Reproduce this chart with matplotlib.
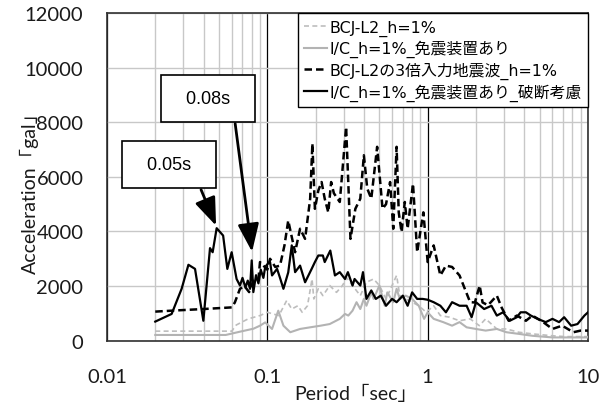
import matplotlib
matplotlib.use("Agg")
import matplotlib.pyplot as plt
from matplotlib.ticker import FixedLocator, FixedFormatter, LogLocator, NullFormatter

# ---- data ----
P1 = [0.02,0.06,0.064,0.076,0.09,0.1,0.118,0.132,0.142,0.155,0.165,0.178,0.19,0.195,0.208,0.222,0.245,0.27,0.294,0.313,0.34,0.38,0.415,0.46,0.5,0.55,0.6,0.64,0.67,0.73,0.8,0.88,0.98,1.09,1.2,1.37,1.58,1.84,2.1,2.3,2.7,3.1,3.7,4.5,6.0,7.2,10]
A1 = [350,350,575,800,920,1040,920,1470,1160,1280,1040,1280,2260,1530,1900,1650,2020,1770,2020,2300,2020,1650,2140,2260,2020,1530,2020,2390,1650,1530,1410,1280,1040,1280,920,860,730,800,550,800,430,430,310,250,180,150,150]

P2 = [0.02,0.055,0.0675,0.082,0.09,0.097,0.107,0.117,0.126,0.139,0.16,0.185,0.215,0.245,0.283,0.305,0.32,0.34,0.36,0.38,0.4,0.415,0.445,0.46,0.5,0.54,0.56,0.61,0.64,0.67,0.73,0.8,0.88,0.95,1.0,1.09,1.25,1.42,1.58,1.75,2.0,2.3,2.7,3.1,3.7,4.5,6.0,10]
A2 = [210,210,330,440,550,670,430,1100,550,310,430,490,550,610,800,980,920,1100,1410,1160,1530,1280,1770,1530,2020,1280,1770,1410,1900,1530,1650,1530,1280,800,1040,800,680,550,680,490,430,370,430,310,250,180,120,120]

P3 = [0.02,0.0253,0.04,0.06,0.0627,0.0675,0.072,0.077,0.082,0.088,0.09,0.1,0.104,0.112,0.12,0.128,0.135,0.142,0.149,0.16,0.172,0.185,0.191,0.198,0.208,0.218,0.228,0.24,0.25,0.26,0.283,0.31,0.33,0.354,0.38,0.4,0.42,0.445,0.484,0.523,0.55,0.583,0.61,0.64,0.66,0.687,0.72,0.75,0.81,0.86,0.94,1.0,1.09,1.2,1.3,1.42,1.58,1.84,1.97,2.11,2.2,2.38,2.7,2.9,3.2,3.6,4.1,4.5,5.2,6.0,6.9,8.1,9.0,10]
A3 = [1065,1100,1160,1220,1400,1900,2000,1780,2200,2250,2880,2600,3000,2700,2750,3500,4400,3800,3240,4100,3730,5200,7220,4830,5500,5810,5200,4700,5810,5400,5080,7830,3730,4830,5200,6790,5570,5200,7100,4830,5000,5810,4100,7100,4700,3980,5080,4100,5750,3240,4700,2880,3490,2390,2750,2700,2390,1410,1400,2020,1400,1300,1650,1200,730,920,730,920,700,430,550,310,370,370]

P4 = [0.02,0.0253,0.0292,0.0322,0.0354,0.0399,0.0439,0.0456,0.0483,0.053,0.0563,0.0599,0.0643,0.0675,0.07,0.073,0.0755,0.078,0.0799,0.0818,0.085,0.088,0.091,0.0945,0.097,0.1,0.104,0.107,0.115,0.12,0.126,0.135,0.142,0.149,0.16,0.172,0.189,0.198,0.208,0.222,0.228,0.247,0.264,0.283,0.305,0.318,0.34,0.35,0.38,0.395,0.415,0.445,0.475,0.51,0.55,0.6,0.64,0.70,0.75,0.80,0.86,0.93,1.0,1.09,1.2,1.3,1.42,1.58,1.75,1.88,2.0,2.25,2.5,2.7,2.95,3.25,3.6,3.8,4.1,4.4,4.85,5.45,6.0,6.6,7.1,7.85,8.6,9.5,10]
A4 = [700,980,1900,2780,2630,730,3390,3240,4120,3850,2630,3240,2260,2020,2300,1950,2200,1900,2940,1780,2400,2100,2600,2300,2700,2800,2880,2390,2630,2300,1900,2500,3490,2510,2750,2140,2630,2880,3120,3120,2880,3300,2390,2510,2260,2510,2020,2260,2020,2510,1530,1840,1530,1650,1280,1530,1410,1650,1280,1770,1530,1530,1500,1410,1280,1040,1410,1280,1280,860,1410,1160,1280,920,1040,730,860,1040,1040,920,800,680,800,680,860,550,610,920,1040]

labels = ["BCJ-L2_h=1%", "I/C_h=1%_免震装置あり", "BCJ-L2の3倍入力地震波_h=1%", "I/C_h=1%_免震装置あり_破断考慮"]
x_ticks = [0.01, 0.1, 1, 10]
x_ticklabels = ["0.01", "0.1", "1", "10"]
y_ticks = [0, 2000, 4000, 6000, 8000, 10000, 12000]
ann_labels = ["0.05s", "0.08s"]
ann_tips = [(0.0479, 4210), (0.0803, 3255)]
ann_tails = [(0.0386, 5530), (0.063, 7950)]

FONT_TICK = ["Lato", "Noto Sans CJK JP"]
FONT_LEG = ["DejaVu Sans", "Noto Sans CJK JP"]

fig = plt.figure(figsize=(6.02, 4.10), dpi=100)
ax = fig.add_axes([107/602, 1 - 341.7/410, (588-107)/602, (341.7-14)/410])

ax.plot(P1, A1, color="#bdbdbd", lw=1.2, ls=(0, (3, 2)), label=labels[0], zorder=3)
ax.plot(P2, A2, color="#b3b3b3", lw=1.5, ls="-", label=labels[1], zorder=3)
ax.plot(P3, A3, color="black", lw=1.8, ls=(0, (3, 1.6)), label=labels[2], zorder=4)
ax.plot(P4, A4, color="black", lw=1.6, ls="-", label=labels[3], zorder=5)

ax.set_xscale("log")
ax.set_xlim(0.01, 10)
ax.set_ylim(0, 12000)
ax.xaxis.set_major_locator(FixedLocator(x_ticks))
ax.xaxis.set_major_formatter(FixedFormatter(x_ticklabels))
ax.xaxis.set_minor_locator(LogLocator(base=10, subs=range(2, 10)))
ax.xaxis.set_minor_formatter(NullFormatter())
ax.set_yticks(y_ticks)
ax.set_yticklabels([str(v) for v in y_ticks])

ax.grid(True, which="minor", axis="x", color="#c8c8c8", lw=1.0, zorder=1)
ax.grid(True, which="major", axis="x", color="black", lw=0.9, zorder=1)
ax.grid(True, which="major", axis="y", color="#c8c8c8", lw=1.0, zorder=1)
ax.tick_params(which="both", length=0)
ax.tick_params(axis="y", pad=17)
ax.tick_params(axis="x", pad=20)
for lab in ax.get_xticklabels() + ax.get_yticklabels():
    lab.set_family(FONT_TICK)
    lab.set_fontsize(14.5)
    lab.set_color("#1a1a1a")
for s in ax.spines.values():
    s.set_color("#303030")
    s.set_linewidth(1.2)

ax.set_xlabel("Period「sec」", family=FONT_TICK, fontsize=14, color="#1a1a1a")
ax.set_ylabel("Acceleration「gal」", family=FONT_TICK, fontsize=14, color="#1a1a1a")
ax.xaxis.set_label_coords((355.5 - 107) / 481, (341.7 - 385) / 327.7)
ax.yaxis.set_label_coords((39 - 107) / 481, (341.7 - 188) / 327.7)

leg = ax.legend(loc="upper right", bbox_to_anchor=(1.0, 1.0), borderaxespad=0,
                prop={"family": FONT_LEG, "size": 11.4}, frameon=True, fancybox=False,
                handlelength=1.45, handletextpad=0.12, labelspacing=0.28,
                borderpad=0.4, framealpha=1)
leg.get_frame().set_edgecolor("black")
leg.get_frame().set_linewidth(1.0)
leg.set_zorder(10)

# annotation arrows and boxes
box_centers = [(169/602, 1 - 165.5/410), (208/602, 1 - 99.5/410)]
for lbl, tip, tail, c in zip(ann_labels, ann_tips, ann_tails, box_centers):
    ax.annotate("", xy=tip, xytext=tail, xycoords="data", textcoords="data",
                arrowprops=dict(arrowstyle="-|>,head_length=0.95,head_width=0.36",
                                color="black", lw=2.0, mutation_scale=18,
                                shrinkA=0, shrinkB=0), zorder=8)
    fig.text(c[0], c[1], "  " + lbl + "  ", ha="center", va="center",
             family=["Liberation Sans"], fontsize=13, color="black",
             bbox=dict(boxstyle="square,pad=0.85", fc="white", ec="black", lw=1.2),
             zorder=9)

fig.savefig("out.png", dpi=100)
